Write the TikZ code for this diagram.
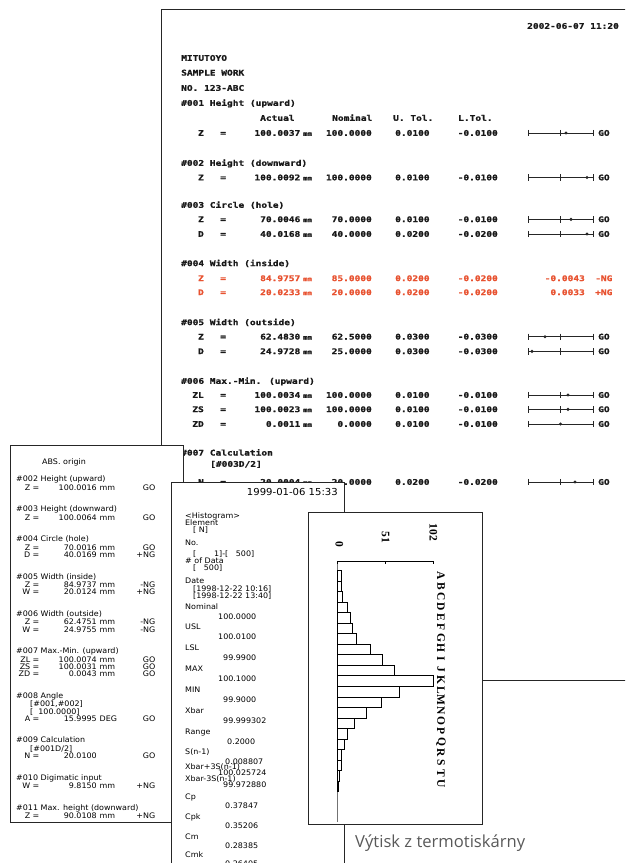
\documentclass[tikz,border=0pt]{standalone}
\usepackage{fontspec}
\setmainfont{DejaVu Sans}
\newfontfamily\bigfont{DejaVu Sans Mono}[FakeStretch=1.22,FakeBold=1.2]
\newfontfamily\thermfont{DejaVu Sans}[FakeStretch=1.05]
\newfontfamily\capfont{Open Sans}
\newfontfamily\histfont{Liberation Serif}
\definecolor{ngred}{RGB}{232,82,48}
\newcount\nodecnt
\newcommand\bargraph[3]{%
  \draw[bargr] (528,#1-3.2) -- (528,#1+3.2) (593,#1-3.2) -- (593,#1+3.2) (528,#1) -- (593,#1);
  \ifnum#3=1 \draw[bargr] (560.5,#1-3.2) -- (560.5,#1+3.2);\fi
  \fill[black!85] (#2,#1) circle (1.7);}
\newcommand\brow[8]{% y label value nominal utol ltol starx midtick
  \node[bte] at (204,#1) {#2};
  \node[btw] at (220,#1) {=};
  \node[bte] at (300.5,#1) {#3};
  \node[btw,font=\bigfont\fontsize{6}{7}\selectfont\bfseries] at (303,#1) {mm};
  \node[bte] at (372,#1) {#4};
  \node[btw] at (395,#1) {#5};
  \node[bte] at (498,#1) {#6};
  \bargraph{#1}{#7}{#8}
  \node[btw] at (598,#1) {GO};}
\newcommand\rrow[8]{% y label value nominal utol ltol dev status (red)
  \node[bte,redt] at (204,#1) {#2};
  \node[btw,redt] at (220,#1) {=};
  \node[bte,redt] at (300.5,#1) {#3};
  \node[btw,redt,font=\bigfont\fontsize{6}{7}\selectfont\bfseries] at (303,#1) {mm};
  \node[bte,redt] at (372,#1) {#4};
  \node[btw,redt] at (395,#1) {#5};
  \node[bte,redt] at (498,#1) {#6};
  \node[bte,redt] at (585,#1) {#7};
  \node[btw,redt] at (595,#1) {#8};}
\newcommand\lrow[5]{% y label value unit status
  \node[tte] at (30.5,#1) {#2};
  \node[ttw] at (32.5,#1) {=};
  \node[tte] at (97,#1) {#3};
  \node[ttw] at (99.5,#1) {#4};
  \node[tte] at (155.5,#1) {#5};}
\begin{document}
\begin{tikzpicture}[x=1pt,y=-1pt,
  every node/.append code={\global\advance\nodecnt by 1\relax\pgfkeysalso{/tikz/name=n\the\nodecnt}},
  sheet/.style={draw=black!85, line width=0.9pt, fill=white},
  bt/.style={font=\bigfont\fontsize{7.8}{8}\selectfont\bfseries, inner sep=0pt, text height=5.6pt, text depth=0pt, text=black!90},
  btw/.style={bt,anchor=west}, bte/.style={bt,anchor=east},
  redt/.style={text=ngred},
  bargr/.style={draw=black!85, line width=0.85pt},
  tt/.style={font=\thermfont\fontsize{7.6}{8}\selectfont, inner sep=0pt, text height=5.5pt, text depth=0pt, text=black},
  ttw/.style={tt,anchor=west}, tte/.style={tt,anchor=east},
  mt/.style={tt,anchor=west},
  hl/.style={font=\histfont\fontsize{11.5}{12}\selectfont\bfseries, inner sep=0pt},
  capt/.style={font=\capfont\fontsize{16.6}{18}\selectfont, text=black!65, inner sep=0pt, anchor=west}]
\useasboundingbox (0,0) rectangle (625,863);
\clip (0,0) rectangle (625,863);
% ---------------- big sheet ----------------
\draw[sheet] (161,9.5) rectangle (660,680);
\node[btw] at (527,26) {2002-06-07 11:20};
\node[btw] at (181,58) {MITUTOYO};
\node[btw] at (181,72.7) {SAMPLE WORK};
\node[btw] at (181,88) {NO. 123-ABC};
\node[btw] at (181,103) {\#001 Height (upward)};
\node[btw] at (260,118) {Actual};
\node[btw] at (332,118) {Nominal};
\node[btw] at (393,118) {U. Tol.};
\node[btw] at (458,118) {L.Tol.};
\brow{133}{Z}{100.0037}{100.0000}{0.0100}{-0.0100}{566}{1}
\node[btw] at (181,163) {\#002 Height (downward)};
\brow{177.5}{Z}{100.0092}{100.0000}{0.0100}{-0.0100}{587}{1}
\node[btw] at (181,205) {\#003 Circle (hole)};
\brow{219.3}{Z}{70.0046}{70.0000}{0.0100}{-0.0100}{571}{1}
\brow{234}{D}{40.0168}{40.0000}{0.0200}{-0.0200}{587}{1}
\node[btw] at (181,263.3) {\#004 Width (inside)};
\rrow{278.3}{Z}{84.9757}{85.0000}{0.0200}{-0.0200}{-0.0043}{-NG}
\rrow{292.3}{D}{20.0233}{20.0000}{0.0200}{-0.0200}{0.0033}{+NG}
\node[btw] at (181,322.3) {\#005 Width (outside)};
\brow{336.7}{Z}{62.4830}{62.5000}{0.0300}{-0.0300}{545}{1}
\brow{351.3}{D}{24.9728}{25.0000}{0.0300}{-0.0300}{532}{1}
\node[btw] at (181,381) {\#006 Max.-Min. (upward)};
\brow{395}{ZL}{100.0034}{100.0000}{0.0100}{-0.0100}{568}{1}
\brow{409.3}{ZS}{100.0023}{100.0000}{0.0100}{-0.0100}{568}{1}
\brow{424}{ZD}{0.0011}{0.0000}{0.0100}{-0.0100}{560.5}{0}
\node[btw] at (181,452.7) {\#007 Calculation};
\node[btw] at (210,464) {[\#003D/2]};
\brow{482}{N}{20.0004}{20.0000}{0.0200}{-0.0200}{575}{1}
% ---------------- left thermal printout ----------------
\draw[sheet] (10,445) rectangle (183,822);
\node[ttw] at (42,462) {ABS. origin};
\node[ttw] at (16,479) {\#002 Height (upward)};
\lrow{487.5}{Z}{100.0016}{mm}{GO}
\node[ttw] at (16,509) {\#003 Height (downward)};
\lrow{517.5}{Z}{100.0064}{mm}{GO}
\node[ttw] at (16,539) {\#004 Circle (hole)};
\lrow{547.5}{Z}{70.0016}{mm}{GO}
\lrow{554.8}{D}{40.0169}{mm}{+NG}
\node[ttw] at (16,576.3) {\#005 Width (inside)};
\lrow{584.8}{Z}{84.9737}{mm}{-NG}
\lrow{592.1}{W}{20.0124}{mm}{+NG}
\node[ttw] at (16,613.6) {\#006 Width (outside)};
\lrow{622.1}{Z}{62.4751}{mm}{-NG}
\lrow{629.4}{W}{24.9755}{mm}{-NG}
\node[ttw] at (16,650.9) {\#007 Max.-Min. (upward)};
\lrow{659.4}{ZL}{100.0074}{mm}{GO}
\lrow{666.7}{ZS}{100.0031}{mm}{GO}
\lrow{674}{ZD}{0.0043}{mm}{GO}
\node[ttw] at (16,695.5) {\#008 Angle};
\node[ttw] at (30,704) {[\#001,\#002]};
\node[ttw] at (30,711.3) {[\ \ 100.0000]};
\lrow{718.6}{A}{15.9995}{DEG}{GO}
\node[ttw] at (16,740.1) {\#009 Calculation};
\node[ttw] at (30,748.6) {[\#001D/2]};
\lrow{755.9}{N}{20.0100}{}{GO}
\node[ttw] at (16,777.4) {\#010 Digimatic input};
\lrow{785.9}{W}{9.8150}{mm}{+NG}
\node[ttw] at (16,807.4) {\#011 Max. height (downward)};
\lrow{815.9}{Z}{90.0108}{mm}{+NG}
% ---------------- middle thermal printout ----------------
\draw[sheet] (171,482) rectangle (344,900);
\node[tte,font=\thermfont\fontsize{9.6}{10}\selectfont] at (338,493) {1999-01-06 15:33};
\node[mt] at (185,516) {<Histogram>};
\node[mt] at (185,523) {Element};
\node[mt] at (193,530) {[ N]};
\node[mt] at (185,543) {No.};
\node[mt] at (193,553.5) {[\ \ \ \ \ \ \ 1]-[\ \ \ 500]};
\node[mt] at (185,561) {\# of Data};
\node[mt] at (193,568) {[\ \ \ 500]};
\node[mt] at (185,581) {Date};
\node[mt] at (193,588.5) {[1998-12-22 10:16]};
\node[mt] at (193,595.5) {[1998-12-22 13:40]};
\node[mt] at (185,607) {Nominal};
\node[mt] at (218,617) {100.0000};
\node[mt] at (185,627) {USL};
\node[mt] at (218,637) {100.0100};
\node[mt] at (185,648) {LSL};
\node[mt] at (223,658) {99.9900};
\node[mt] at (185,669) {MAX};
\node[mt] at (218,679) {100.1000};
\node[mt] at (185,690) {MIN};
\node[mt] at (223,700) {99.9000};
\node[mt] at (185,711) {Xbar};
\node[mt] at (223,721) {99.999302};
\node[mt] at (185,732) {Range};
\node[mt] at (227,742) {0.2000};
\node[mt] at (185,752) {S(n-1)};
\node[mt] at (225,761.5) {0.008807};
\node[mt] at (185,767) {Xbar+3S(n-1)};
\node[mt] at (218,773) {100.025724};
\node[mt] at (185,779) {Xbar-3S(n-1)};
\node[mt] at (223,785) {99.972880};
\node[mt] at (185,797) {Cp};
\node[mt] at (225,806) {0.37847};
\node[mt] at (185,817) {Cpk};
\node[mt] at (225,826) {0.35206};
\node[mt] at (185,837) {Cm};
\node[mt] at (225,845.5) {0.28385};
\node[mt] at (185,855) {Cmk};
\node[mt] at (225,864) {0.26405};
% ---------------- histogram box ----------------
\draw[sheet] (308,512) rectangle (482,824);
\draw[black!55, line width=0.7pt] (337.7,561) -- (337.7,822);
\draw[black, line width=0.7pt] (337.7,561) -- (433.5,561)
  (337.7,561) -- (337.7,564) (385.6,561) -- (385.6,564) (433.5,561) -- (433.5,564);
\node[hl, rotate=-90, anchor=east] at (339.5,547) {0};
\node[hl, rotate=-90, anchor=east] at (385.6,543) {51};
\node[hl, rotate=-90, anchor=east] at (433.5,541) {102};
\foreach \e [count=\i from 0] in {341,341.7,342.7,347.3,350.3,352.7,356.7,370.7,382.3,394.3,433.3,399,381.5,366,354,347.3,344,341.7,341.7,339.3,338.3}
  \draw[black, line width=0.7pt] (337.7,570.5+10.53*\i) rectangle (\e,570.5+10.53*\i+10.53);
\foreach \l [count=\i from 0] in {A,B,C,D,E,F,G,H,I,J,K,L,M,N,O,P,Q,R,S,T,U}
  \node[hl, rotate=-90] at (441,575.5+10.4*\i) {\l};
% ---------------- caption ----------------
\node[capt] at (355,843) {Výtisk z termotiskárny};
\end{tikzpicture}
\end{document}
